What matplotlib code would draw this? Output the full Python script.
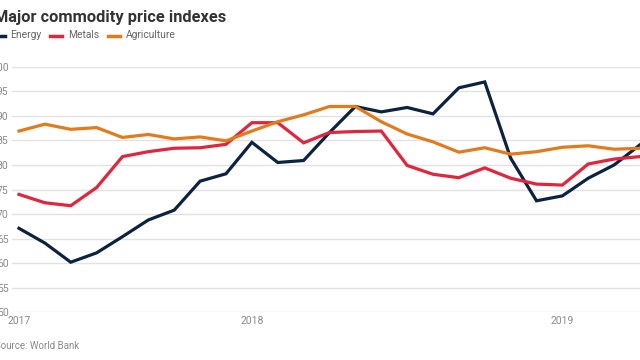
import matplotlib
matplotlib.use("Agg")
import matplotlib.pyplot as plt
from matplotlib.lines import Line2D

energy = [67.1, 64.1, 60.2, 62.1, 65.4, 68.8, 70.8, 76.7, 78.2, 84.6, 80.5, 80.9,
          86.6, 91.9, 90.8, 91.7, 90.4, 95.7, 96.9, 81.4, 72.7, 73.7, 77.3, 80.0, 84.1]
metals = [74.0, 72.3, 71.7, 75.4, 81.7, 82.7, 83.4, 83.5, 84.2, 88.6, 88.6, 84.5,
          86.6, 86.8, 86.9, 79.9, 78.1, 77.4, 79.4, 77.3, 76.1, 75.9, 80.2, 81.2, 81.7]
agri = [86.9, 88.3, 87.25, 87.6, 85.6, 86.2, 85.3, 85.7, 84.9, 86.9, 88.8, 90.2,
        91.9, 91.9, 88.8, 86.3, 84.7, 82.6, 83.5, 82.2, 82.7, 83.6, 83.9, 83.2, 83.4]
series_names = ["Energy", "Metals", "Agriculture"]
year_labels = ["2017", "2018", "2019"]
year_positions = [0, 9, 21]
y_ticks = [50, 55, 60, 65, 70, 75, 80, 85, 90, 95, 100]

colors = ["#0c2340", "#e0253c", "#e27b1d"]

plt.rcParams['font.family'] = ['Roboto', 'DejaVu Sans']

W, H = 640, 360
fig = plt.figure(figsize=(6.4, 3.6), dpi=100)
ax = fig.add_axes([12 / W, 1 - 312.3 / H, 1 - 12 / W, (312.3 - 66.7) / H])

x = list(range(len(energy)))
for data, c in zip([energy, metals, agri], colors):
    ax.plot(x, data, color=c, lw=2.3, solid_joinstyle='miter', clip_on=False, zorder=3)

ax.set_xlim(-0.27, 24)
ax.set_ylim(50, 100)
ax.set_yticks(y_ticks)
ax.set_yticklabels([str(v) for v in y_ticks])
ax.set_xticks(year_positions)
ax.set_xticklabels(year_labels)
ax.tick_params(axis='y', length=0, pad=2.5, labelsize=7.5, labelcolor='#8a8a8a')
ax.tick_params(axis='x', length=0, pad=3, labelsize=7.5, labelcolor='#8a8a8a')
ax.grid(axis='y', color='#e2e2e2', lw=1)
ax.set_axisbelow(True)
for s in ax.spines.values():
    s.set_visible(False)

fig.text(-6 / W, 1 - 17.5 / H, "Major commodity price indexes", fontsize=11.8,
         fontweight='bold', color='#333333', va='center', ha='left')

leg_y = 1 - 35.5 / H
marks = [(-7, 10), (50, 68), (108, 126)]
for (mx, tx), name, c in zip(marks, series_names, colors):
    fig.add_artist(Line2D([mx / W, (mx + 12) / W], [leg_y, leg_y], color=c, lw=2.5,
                          transform=fig.transFigure))
    fig.text(tx / W, leg_y, name, fontsize=7.4, color='#666666', va='center', ha='left')

fig.text(-5 / W, 1 - 346 / H, "Source: World Bank", fontsize=7.0, color='#8a8a8a',
         va='center', ha='left')

fig.savefig("out.png", dpi=100)
